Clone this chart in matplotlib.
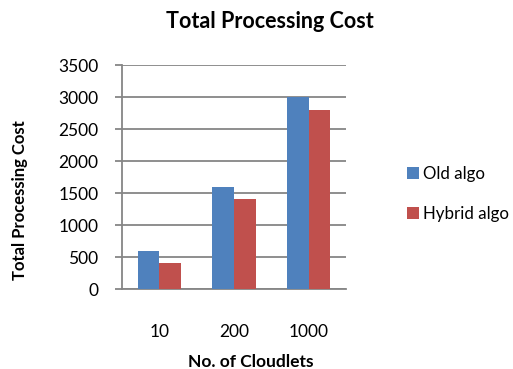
import numpy as np
import matplotlib
matplotlib.use("Agg")
import matplotlib.pyplot as plt

plt.rcParams['font.family'] = ['Lato', 'DejaVu Sans']

cloudlets = ['10', '200', '1000']
old_algo = [600, 1600, 3000]
hybrid_algo = [400, 1400, 2800]

W, H = 513, 369
fig = plt.figure(figsize=(W / 100, H / 100), dpi=100)
# axes box in pixel terms: x 122..346, y 65..289
ax = fig.add_axes([122 / W, 1 - 289 / H, (346 - 122) / W, (289 - 65) / H])

x = np.arange(len(cloudlets))
bw = 0.29
ax.bar(x - bw / 2, old_algo, bw, color='#4F81BD', label='Old algo', zorder=3)
ax.bar(x + bw / 2, hybrid_algo, bw, color='#C0504D', label='Hybrid algo', zorder=3)

ax.set_xlim(-0.5, len(cloudlets) - 0.5)
ax.set_ylim(0, 3500)
ax.set_yticks(np.arange(0, 3501, 500))
ax.set_xticks(x)
ax.set_xticklabels(cloudlets)

ax.yaxis.grid(True, color='#868686', linewidth=1.3, zorder=0)
for s in ['top', 'right']:
    ax.spines[s].set_visible(False)
ax.spines['left'].set_color('#868686')
ax.spines['bottom'].set_color('#868686')
ax.spines['left'].set_linewidth(1.3)
ax.spines['bottom'].set_linewidth(1.3)
ax.tick_params(axis='y', length=5, width=1.3, color='#868686', labelsize=12.5, pad=12)
ax.tick_params(axis='x', length=0, labelsize=12.5, pad=25)

fig.text(251 / W, 1 - 362 / H, 'No. of Cloudlets', ha='center', va='center',
         fontsize=12.5, fontweight='bold')
fig.text(20 / W, 1 - 200 / H, 'Total Processing Cost', ha='center', va='center',
         rotation=90, fontsize=12, fontweight='bold')
fig.text(270 / W, 1 - 22 / H, 'Total Processing Cost', ha='center', va='center',
         fontsize=15.5, fontweight='bold')

ax.legend(loc='center left', bbox_to_anchor=(399 / W, 1 - 194 / H),
          bbox_transform=fig.transFigure, frameon=False, fontsize=12.2,
          handlelength=0.7, handleheight=0.7, handletextpad=0.2,
          labelspacing=1.4, borderpad=0)

fig.savefig('out.png', dpi=100)
